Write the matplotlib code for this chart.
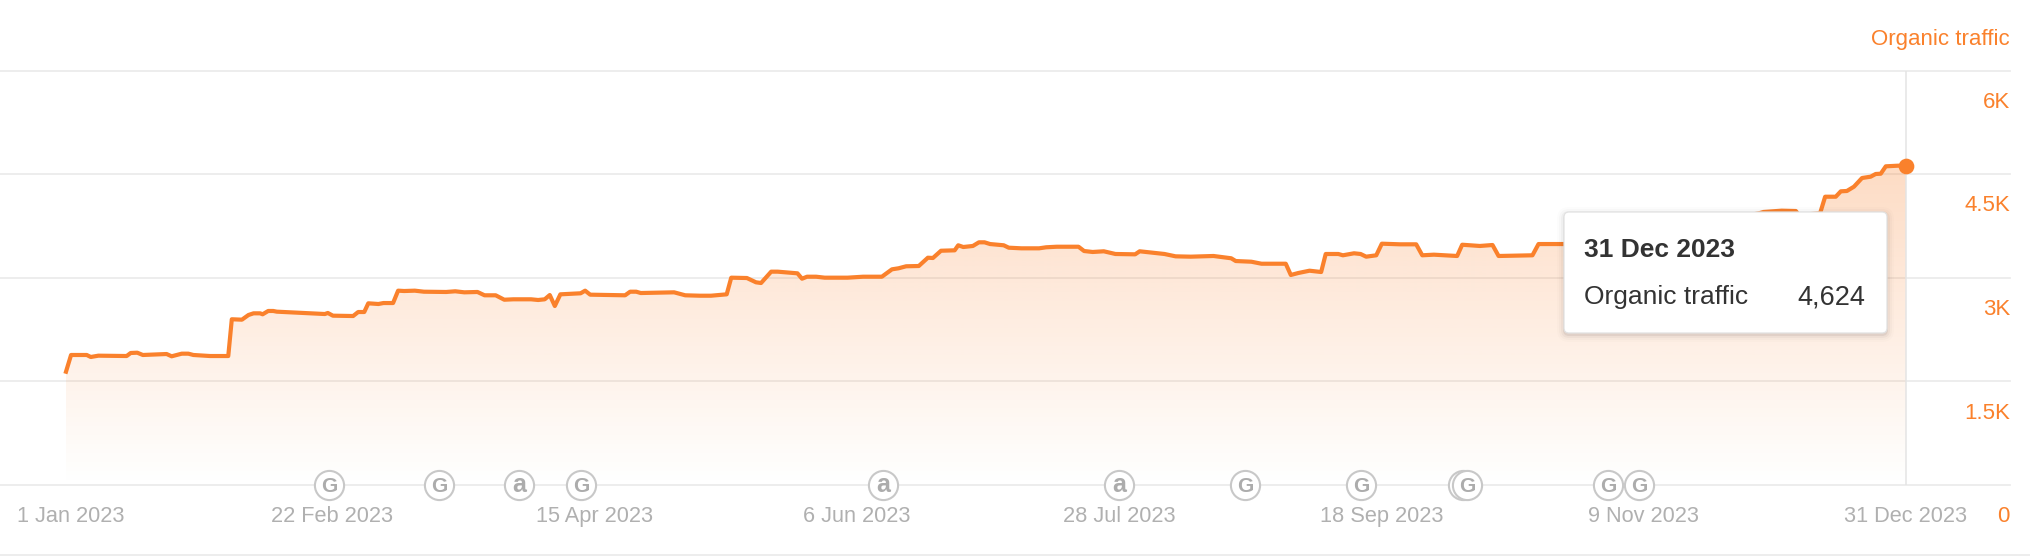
import numpy as np
import matplotlib
matplotlib.use('Agg')
import matplotlib.pyplot as plt
from matplotlib.patches import FancyBboxPatch
from matplotlib.lines import Line2D
from matplotlib.transforms import IdentityTransform

plt.rcParams['font.family'] = ['Liberation Sans', 'DejaVu Sans']

## Data (days since 1 Jan 2023, organic traffic)
days = [0, 1, 4.1, 4.9, 6.4, 12, 12.8, 14.1, 15.2, 19.9, 20.9, 22.9, 24.2, 25.2, 28.5, 32.1,
        32.8, 34.8, 36.1, 37.1, 38.4, 38.9, 40, 41, 41.7, 51.2, 51.8, 52.8, 56.8, 57.8, 59,
        59.8, 61.8, 62.8, 64.7, 65.7, 66.9, 69, 70.8, 75.2, 77, 78.8, 81.4, 82.8, 85, 86.7,
        88.5, 92, 93.4, 94.7, 95.7, 96.7, 97.8, 99.1, 101.8, 102.7, 103.7, 110.6, 111.6,
        112.8, 113.7, 120.3, 122.5, 125.4, 127.6, 130.7, 131.6, 134.7, 136.5, 137.5, 139.5,
        140.8, 144.7, 145.6, 146.6, 148.4, 150.1, 154.6, 157.7, 161.4, 163.4, 164.7, 166.2,
        168.7, 170.5, 171.5, 173.1, 175.8, 176.5, 177.5, 179.4, 180.6, 181.7, 182.8, 185.5,
        186.5, 189, 192.5, 193.9, 196, 200.3, 201.4, 203.1, 205.3, 207.6, 211.5, 212.4,
        217.3, 219.5, 222.5, 227, 230.5, 231.4, 234.5, 236.5, 241.3, 242.3, 243.8, 246,
        248.3, 249.2, 251.7, 252.6, 254.8, 256.1, 257.2, 259.2, 260.3, 263.9, 267.1, 268.3,
        270.6, 275.2, 276.2, 279.7, 282.2, 283.4, 290.1, 291.3, 296.3, 311.4, 323.2, 335.1,
        335.8, 339.4, 342.2, 342.8, 347, 348, 350.1, 351.1, 352.3, 353.7, 355.3, 357, 358,
        359, 360, 362.4, 364]
traffic = [1640, 1882, 1882, 1853, 1872, 1867, 1911, 1915, 1882, 1896, 1863, 1901, 1901, 1882, 1867, 1867,
           2399, 2393, 2461, 2485, 2485, 2471, 2519, 2519, 2509, 2475, 2490, 2451, 2446, 2504, 2504,
           2630, 2620, 2634, 2634, 2813, 2808, 2813, 2798, 2794, 2804, 2789, 2794, 2746, 2746, 2682,
           2688, 2688, 2678, 2688, 2750, 2591, 2760, 2765, 2775, 2813, 2755, 2746, 2798,
           2798, 2779, 2789, 2746, 2740, 2740, 2760, 3001, 2996, 2934, 2924, 3088,
           3088, 3064, 2986, 3015, 3015, 3001, 3001, 3015, 3015, 3122, 3137, 3166,
           3170, 3290, 3286, 3391, 3397, 3470, 3445, 3460, 3513, 3513, 3488, 3470,
           3435, 3426, 3426, 3441, 3449, 3449, 3387, 3373, 3383, 3344, 3339, 3383,
           3344, 3310, 3305, 3315, 3282, 3242, 3232, 3203, 3203, 3040, 3069, 3102,
           3083, 3344, 3344, 3325, 3354, 3344, 3305, 3325, 3493, 3484, 3484, 3325,
           3334, 3315, 3478, 3460, 3474, 3315, 3325, 3488, 3488, 3575, 3764, 3937,
           3952, 3971, 3966, 3908, 3933, 4173, 4173, 4251, 4256, 4318, 4444, 4463, 4502,
           4506, 4613, 4622, 4624]

x_tick_days = [1, 52.6, 104.5, 156.4, 208.3, 260.2, 312.1, 364]
x_tick_labels = ['1 Jan 2023', '22 Feb 2023', '15 Apr 2023', '6 Jun 2023', '28 Jul 2023',
                 '18 Sep 2023', '9 Nov 2023', '31 Dec 2023']
y_ticks = [0, 1500, 3000, 4500, 6000]
y_tick_labels = ['0', '1.5K', '3K', '4.5K', '6K']

# Update markers on the date axis, the first of the overlapping pair shows no letter
event_days = [52, 73.8, 89.6, 101.9, 161.6, 208.3, 233.2, 256.2, 276.4, 277.2, 305.1, 311.2]
event_kinds = ['G', 'G', 'a', 'G', 'a', 'a', 'G', 'G', '', 'G', 'G', 'G']

tooltip_date = '31 Dec 2023'
tooltip_name = 'Organic traffic'
tooltip_value = '4,624'

orange = '#fa812c'
grid_col = '#ececec'
grey_text = '#b0b0b0'
W, H = 2030, 556

## Figure and axes, axes runs from the left edge to the right end of the gridlines
fig = plt.figure(figsize=(W/100, H/100), dpi=100, facecolor='white')
ax = fig.add_axes([0, (H-485)/H, 2010/W, 414.5/H])
ax.set_xlim(-66/5.055, (2010-66)/5.055)
ax.set_ylim(0, 6000)
for s in ax.spines.values():
    s.set_visible(False)
ax.set_yticks(y_ticks)
ax.set_yticklabels([])
ax.set_xticks(x_tick_days)
ax.set_xticklabels(x_tick_labels, fontsize=15.7, color=grey_text)
ax.tick_params(axis='both', length=0)
ax.tick_params(axis='x', pad=15.4)
ax.grid(axis='y', color=grid_col, linewidth=1.3, zorder=1)
for sp in ax.yaxis.get_gridlines():
    sp.set_clip_on(False)

# Right hand labels sit under their gridlines
for val, lab in zip(y_ticks, y_tick_labels):
    ax.annotate(lab, xy=(1, val), xycoords=ax.get_yaxis_transform(), xytext=(0, -22.8),
                textcoords='offset points', ha='right', va='center', fontsize=16, color=orange)
fig.text(2010/W, 1-39/H, 'Organic traffic', ha='right', va='center', fontsize=16, color=orange)

# Orange gradient under the line, clipped to the area
top = max(traffic)
poly = ax.fill_between(days, traffic, 0, facecolor='none', edgecolor='none')
grad = np.zeros((256, 2, 4))
grad[..., :3] = matplotlib.colors.to_rgb(orange)
grad[..., 3] = np.linspace(0.28, 0, 256)[:, None]
im = ax.imshow(grad, extent=(days[0], days[-1], 0, top), aspect='auto', zorder=2,
               interpolation='bilinear')
im.set_clip_path(poly.get_paths()[0], transform=ax.transData)
ax.set_xlim(-66/5.055, (2010-66)/5.055)
ax.set_ylim(0, 6000)

ax.axvline(days[-1], color='#e4e4e4', linewidth=1.1, zorder=3)
ax.plot(days, traffic, color=orange, linewidth=3, solid_joinstyle='round', zorder=4, clip_on=False)
ax.plot(days[-1], traffic[-1], 'o', color=orange, markersize=11.3, markeredgewidth=0, zorder=5)

# Event markers, later ones cover earlier ones
for i, (d, k) in enumerate(zip(event_days, event_kinds)):
    ax.plot(d, 0, 'o', markersize=21, markerfacecolor='white', markeredgecolor='#c8c8c8',
            markeredgewidth=1.5, zorder=6+i*0.01, clip_on=False)
    if k == 'G':
        ax.annotate(k, xy=(d, 0), xytext=(0, -1.2), textcoords='offset points', ha='center', va='center',
                    fontweight='bold', color='#acacac', fontsize=15, zorder=6.005+i*0.01,
                    annotation_clip=False)
    elif k == 'a':
        ax.annotate(k, xy=(d, 0), xytext=(0, 0), textcoords='offset points', ha='center', va='center',
                    fontweight='bold', color='#acacac', fontsize=18, zorder=6.005+i*0.01,
                    annotation_clip=False)

# Bottom rule
fig.add_artist(Line2D([0, 1], [1-555/H, 1-555/H], color=grid_col, linewidth=1.3))

## Tooltip, in pixels
bx, by, bw, bh = 1564, 212, 323, 121
for i, a in [(7, 0.012), (5, 0.02), (3, 0.03), (1, 0.06)]:
    fig.add_artist(FancyBboxPatch((bx, H-by-bh-2), bw, bh, boxstyle='round,pad=%d,rounding_size=%d' % (i, 5+i),
                                  transform=IdentityTransform(), facecolor='black', edgecolor='none',
                                  alpha=a, zorder=10))
fig.add_artist(FancyBboxPatch((bx, H-by-bh), bw, bh, boxstyle='round,pad=0,rounding_size=5',
                              transform=IdentityTransform(), facecolor='white', edgecolor='#e2e2e2',
                              linewidth=0.9, zorder=11))
fig.text(1584/W, 1-250/H, tooltip_date, ha='left', va='center', fontsize=19, fontweight='bold',
         color='#333333', zorder=12)
fig.text(1584/W, 1-297/H, tooltip_name, ha='left', va='center', fontsize=19, color='#333333', zorder=12)
fig.text(1865/W, 1-297/H, tooltip_value, ha='right', va='center', fontsize=19.5, color='#333333', zorder=12)

fig.savefig('out.png', dpi=100)
